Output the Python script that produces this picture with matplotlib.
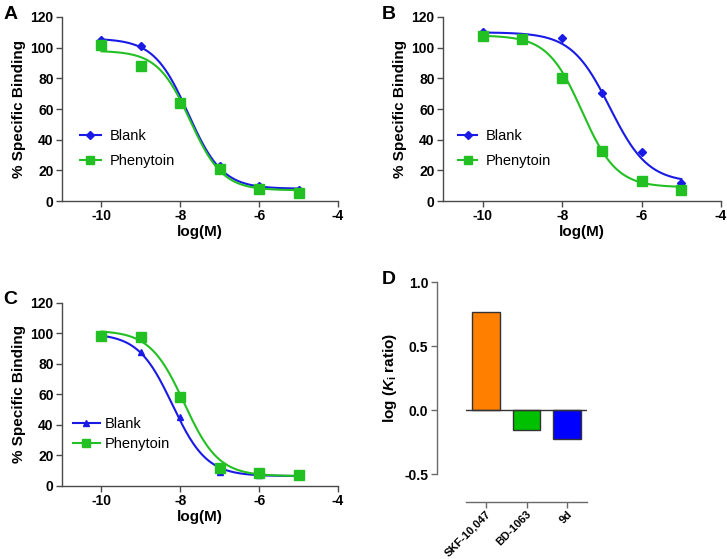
import numpy as np
import matplotlib
matplotlib.use("Agg")
import matplotlib.pyplot as plt

plt.rcParams["font.family"] = ["Liberation Sans", "DejaVu Sans"]
plt.rcParams["axes.unicode_minus"] = False
plt.rcParams["mathtext.fontset"] = "custom"
plt.rcParams["mathtext.rm"] = "Liberation Sans:bold"
plt.rcParams["mathtext.it"] = "Liberation Sans:italic:bold"

# ── Daten ────────────────────────────────────────────────────────────────────
log_m = [-10, -9, -8, -7, -6, -5]

a_blank = [105, 101, 63, 23, 10, 7]
a_phen  = [102, 88, 64, 21, 8, 5.5]
b_blank = [110.5, 105.5, 106, 70.5, 32, 11.5]
b_phen  = [107.5, 105.5, 80, 32.5, 13, 7.5]
c_blank = [98.5, 88, 45, 9.5, 7.5, 7]
c_phen  = [98.5, 97.5, 58.5, 12, 8.5, 7.5]

# Fitparameter (top, bottom, logIC50, hill)
a_blank_fit = [106, 8, -7.8, 1.0]
a_phen_fit  = [98, 7, -7.75, 1.05]
b_blank_fit = [110, 12, -6.8, 0.9]
b_phen_fit  = [108, 9, -7.5, 1.0]
c_blank_fit = [100, 6.5, -8.2, 1.0]
c_phen_fit  = [102, 6.5, -7.9, 1.0]

compounds = ["SKF-10,047", "BD-1063", "9d"]
ki_ratio  = [0.765, -0.155, -0.225]
bar_colors = ["#ff8000", "#00c000", "#0000ff"]

BLUE  = "#1a1ae6"
GREEN = "#22c022"
SPINE = "#4a4a4a"


def sigmoid(x, p):
    top, bottom, ic50, hill = p
    return bottom + (top - bottom) / (1 + 10 ** ((x - ic50) * hill))


def style_axes(ax, color=SPINE):
    for s in ["top", "right"]:
        ax.spines[s].set_visible(False)
    for s in ["left", "bottom"]:
        ax.spines[s].set_color(color)
        ax.spines[s].set_linewidth(1.0)
    ax.tick_params(direction="out", length=4, width=1.0, color=color,
                   labelsize=10, pad=2)


def bold_ticks(ax):
    for lab in ax.get_xticklabels() + ax.get_yticklabels():
        lab.set_fontweight("bold")


def curve_panel(ax, blank, phen, bfit, pfit, bmarker, leg):
    xs = np.linspace(-10, -5, 300)
    ax.plot(xs, sigmoid(xs, bfit), color=BLUE, lw=1.5, zorder=2)
    ax.plot(xs, sigmoid(xs, pfit), color=GREEN, lw=1.5, zorder=2)
    ms = 4.5 if bmarker == "D" else 5
    ax.plot(log_m, blank, ls="none", marker=bmarker, ms=ms, color=BLUE, zorder=3)
    ax.plot(log_m, phen, ls="none", marker="s", ms=6.5, color=GREEN, zorder=4)
    hb, = ax.plot([], [], color=BLUE, lw=1.5, marker=bmarker, ms=ms)
    hp, = ax.plot([], [], color=GREEN, lw=1.5, marker="s", ms=5.5)
    lx, hl, sp, tp = leg
    ax.legend([hb, hp], ["Blank", "Phenytoin"], loc="center left",
              bbox_to_anchor=(lx, 0.285), frameon=False, fontsize=10.5,
              handlelength=hl, handletextpad=tp, labelspacing=sp)
    ax.set_xlim(-11, -4)
    ax.set_ylim(0, 120)
    ax.set_xticks([-10, -8, -6, -4])
    ax.set_yticks(range(0, 121, 20))
    ax.set_ylabel("% Specific Binding", fontsize=11, fontweight="bold", labelpad=3)
    ax.set_xlabel("log(M)", fontsize=11, fontweight="bold", labelpad=1)
    style_axes(ax)
    bold_ticks(ax)


fig = plt.figure(figsize=(7.27, 5.59), dpi=100)

ax_a = fig.add_axes([0.0853, 0.6404, 0.3797, 0.3292])
ax_b = fig.add_axes([0.6094, 0.6404, 0.3824, 0.3292])
ax_c = fig.add_axes([0.0853, 0.1306, 0.3797, 0.3274])
ax_d = fig.add_axes([0.6406, 0.1520, 0.1673, 0.3430])

curve_panel(ax_a, a_blank, a_phen, a_blank_fit, a_phen_fit, "D", (0.018, 1.4, 0.72, 0.6))
curve_panel(ax_b, b_blank, b_phen, b_blank_fit, b_phen_fit, "D", (0.007, 1.3, 0.72, 0.6))
curve_panel(ax_c, c_blank, c_phen, c_blank_fit, c_phen_fit, "^", (-0.008, 1.85, 0.38, 0.3))

# ── Panel D ──────────────────────────────────────────────────────────────────
xpos = np.arange(len(compounds))
ax_d.bar(xpos, ki_ratio, width=0.68, color=bar_colors, edgecolor="#333333",
         linewidth=1.0, zorder=2)
ax_d.axhline(0, color="#333333", lw=1.0, zorder=3)
ax_d.set_xlim(-0.5, 2.5)
ax_d.set_ylim(-0.5, 1.0)
ax_d.set_yticks([-0.5, 0.0, 0.5, 1.0])
ax_d.spines["left"].set_position(("outward", 21))
ax_d.spines["bottom"].set_position(("outward", 20))
style_axes(ax_d, color="#6a6a6a")
ax_d.tick_params(axis="x", pad=1)
ax_d.set_xticks(xpos)
ax_d.set_xticklabels(compounds, rotation=45, ha="right", va="top",
                     rotation_mode="anchor", fontsize=8)
ax_d.set_ylabel(r"log ($K_\mathrm{i}$ ratio)", fontsize=11, fontweight="bold",
                labelpad=4)
bold_ticks(ax_d)

for lbl, x, y in [("A", 0.005, 0.99), ("B", 0.525, 0.99),
                  ("C", 0.005, 0.48), ("D", 0.525, 0.515)]:
    fig.text(x, y, lbl, fontsize=14, fontweight="bold", va="top", ha="left")

fig.savefig("out.png", dpi=100)
